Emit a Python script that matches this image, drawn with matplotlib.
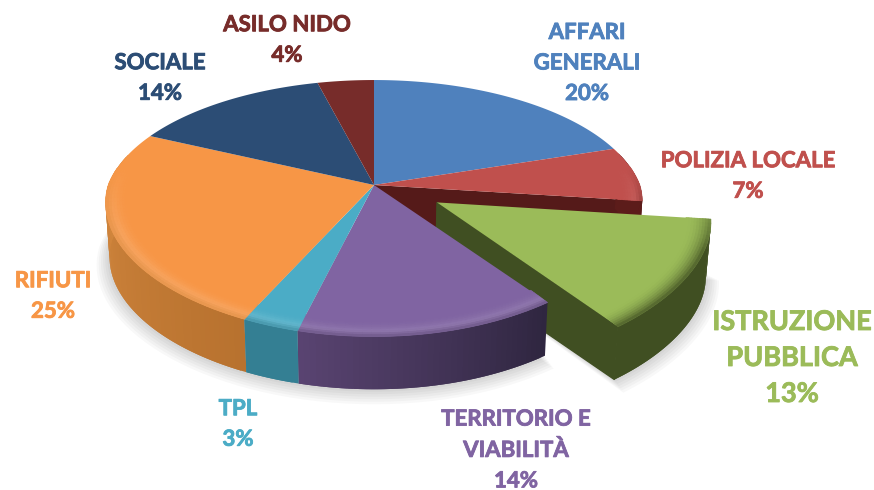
import numpy as np
import matplotlib
matplotlib.use("Agg")
import matplotlib.pyplot as plt
import matplotlib.patheffects as pe
from matplotlib.colors import to_rgb

names = ["AFFARI\nGENERALI", "POLIZIA LOCALE", "ISTRUZIONE\nPUBBLICA", "TERRITORIO E\nVIABILITÀ",
         "TPL", "RIFIUTI", "SOCIALE", "ASILO NIDO"]
values = [20, 7, 13, 14, 3, 25, 14, 4]
colors = ["#4f81bd", "#c0504d", "#9bbb59", "#8064a2", "#4bacc6", "#f79646", "#2c4d75", "#772c2a"]
# wall colour at start / end of each slice (clockwise)
wall_a = ["#3a608e", "#5c1c1a", "#404f22", "#2f2640", "#347f93", "#b8722f", "#20395a", "#5a2120"]
wall_b = ["#3a608e", "#5c1c1a", "#404f22", "#5a4472", "#347f93", "#da8d42", "#20395a", "#5a2120"]
# label centres in pixels
label_x = [587, 748, 792, 516, 238, 53, 160, 287]
label_y = [63, 176, 358, 450, 424, 296, 78, 40]
label_size = [16, 16, 19.5, 16, 16, 16, 16, 16]
label_space = [1.56, 1.56, 1.6, 1.56, 1.56, 1.56, 1.56, 1.56]

EXPLODED = 2
EXPLODE_D = 0.27

fig = plt.figure(figsize=(8.74, 4.9), dpi=100)
ax = fig.add_axes([0, 0, 1, 1])
ax.set_xlim(0, 874)
ax.set_ylim(490, 0)
ax.axis("off")


# unit disc -> pixels, with a rough perspective (z=0 top face, z=1 bottom face)
def project(x, y, z=0.0):
    x = np.asarray(x, dtype=float)
    y = np.asarray(y, dtype=float)
    z = np.asarray(z, dtype=float)
    kx = np.where(y > 0, 0.176, 0.14 + 0.035 * np.clip(x, 0, None) * y)
    wx = 1 + kx * y
    wy = 1 + np.where(y > 0, 0.1765, 0.185) * y
    s = 1 - 0.015 * z
    return 374 + 265.8 * x / wx * s, 185 - 123.5 * y / wy * s + 55 * z


def polar(t, r=1.0, off=(0, 0)):
    return r * np.sin(t) + off[0], r * np.cos(t) + off[1]


def blend(c1, c2, f):
    a, b = np.array(to_rgb(c1)), np.array(to_rgb(c2))
    return tuple(a + (b - a) * f)


def poly(px, py, color, zorder, alpha=1.0):
    ax.fill(px, py, color=color, zorder=zorder, alpha=alpha, lw=0)


edges = np.radians(np.concatenate([[0], np.cumsum(values)]) * 3.6)
mid = (edges[EXPLODED] + edges[EXPLODED + 1]) / 2
off_x = (EXPLODE_D * np.sin(mid), EXPLODE_D * np.cos(mid))


def offset(i):
    return off_x if i == EXPLODED else (0, 0)


# soft shadow under the pie
for grow in np.linspace(1.05, 1.0, 7):
    for off, a, b in [((0, 0), edges[3], edges[6]), (off_x, edges[2], edges[3])]:
        t = np.linspace(a, b, 60)
        x, y = polar(t, grow, off)
        px, py = project(x, y, 1.0 + (grow - 1) * 2.2)
        cx, cy = project(off[0], off[1], 1.0)
        poly(np.r_[cx, px], np.r_[cy, py], "#000000", 1, alpha=0.028)


def draw_walls(i, z):
    off = offset(i)
    a, b = edges[i], edges[i + 1]
    steps = max(int((b - a) / 0.02), 2)
    t = np.linspace(a, b, steps + 1)
    for j in range(steps):
        # quads overlap by one step so no seams show
        x, y = polar(t[j:j + 3], 1.0, off)
        if np.mean(y) > 0.25:
            continue
        tx, ty = project(x, y, 0)
        bx, by = project(x, y, 1)
        col = blend(wall_a[i], wall_b[i], j / steps)
        poly(np.r_[tx, bx[::-1]], np.r_[ty, by[::-1]], col, z)


def draw_top(i, z):
    off = offset(i)
    a, b = edges[i], edges[i + 1]
    t = np.linspace(a, b, 80)
    x, y = polar(t, 1.0, off)
    px, py = project(np.r_[off[0], x], np.r_[off[1], y])
    poly(px, py, colors[i], z)
    # bevel along the rim, only towards the viewer
    rims = np.linspace(0.91, 1.0, 10)
    steps = max(int((b - a) / 0.03), 2)
    t = np.linspace(a, b, steps + 1)
    for k in range(len(rims) - 1):
        f = k / (len(rims) - 2)
        for j in range(steps):
            tt = t[j:j + 2]
            x1, y1 = polar(tt, rims[k], off)
            x2, y2 = polar(tt, rims[k + 1], off)
            front = np.clip((0.15 - np.cos(tt.mean())) / 0.5, 0, 1)
            if front == 0:
                continue
            if i == EXPLODED:
                target = blend(colors[i], wall_a[i], 0.75 * f ** 2)
            elif f < 0.7:
                target = blend(colors[i], "#ffffff", 0.13 * (f / 0.7) ** 2)
            else:
                target = blend(blend(colors[i], "#ffffff", 0.13), wall_b[i], (f - 0.7) / 0.3 * 0.5)
            col = blend(colors[i], target, front)
            px, py = project(np.r_[x1, x2[::-1]], np.r_[y1, y2[::-1]])
            ax.fill(px, py, color=col, zorder=z + 0.1, lw=0.5)


# cut face of POLIZIA LOCALE, seen through the gap
t_cut = edges[EXPLODED]
cx, cy = polar(t_cut)
px, py = project([0, cx, cx, 0], [0, cy, cy, 0], [0, 0, 1, 1])
poly(px, py, "#551a19", 2)

# back to front: polizia wall, exploded slice, then the rest
draw_walls(1, 3)
draw_walls(EXPLODED, 4)
t_end = edges[EXPLODED + 1]
ex, ey = polar(t_end, 1.0, off_x)
px, py = project([off_x[0], ex, ex, off_x[0]], [off_x[1], ey, ey, off_x[1]], [0, 0, 1, 1])
ax.fill(px, py, color=wall_a[EXPLODED], zorder=4.5, lw=1.0)
draw_top(EXPLODED, 5)

for z, i in enumerate([3, 5, 4]):
    draw_walls(i, 6 + z)
for i in [0, 1, 3, 4, 5, 6, 7]:
    draw_top(i, 10)

for i, name in enumerate(names):
    pct = round(values[i] / sum(values) * 100)
    ax.text(label_x[i], label_y[i], f"{name}\n{pct}%", color=colors[i], ha="center", va="center",
            fontsize=label_size[i], fontweight="bold", family="Lato",
            linespacing=label_space[i], zorder=20,
            path_effects=[pe.withStroke(linewidth=0.6, foreground=colors[i])])

fig.savefig("out.png", dpi=100)
